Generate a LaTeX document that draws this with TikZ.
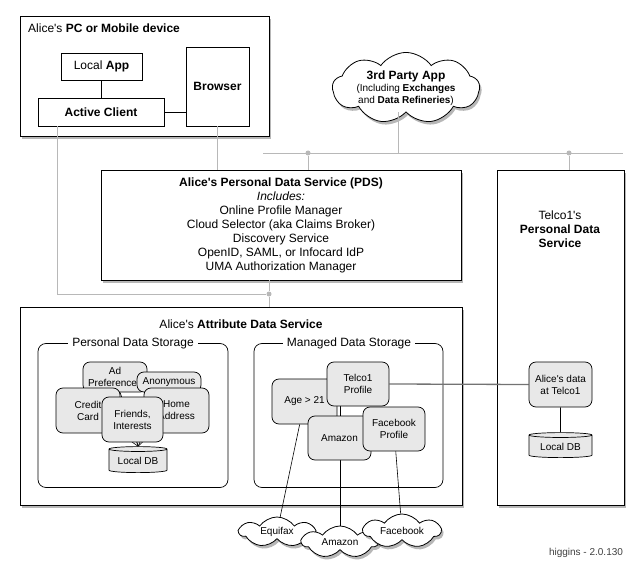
\documentclass[tikz,border=0pt]{standalone}
\usepackage{fontspec}
\setmainfont{Liberation Sans}[Ligatures=TeXOff]
\usetikzlibrary{shapes.geometric,shapes.symbols,shadows,positioning}
\pgfdeclarelayer{edges}
\pgfdeclarelayer{items}
\pgfsetlayers{main,edges,items}
\newcommand\smallfont{\fontsize{10}{12}\selectfont}

\begin{document}
\begin{tikzpicture}[
    x=1pt, y=-1pt,
    every node/.style={inner sep=0pt, font=\fontsize{12}{14}\selectfont},
    box/.style={draw, line width=0.9pt, fill=white, align=center},
    shadowed/.style={drop shadow={shadow xshift=2pt, shadow yshift=-3pt, opacity=0.4, fill=black!70}},
    item/.style={draw, line width=0.7pt, fill=black!9, rounded corners=7pt, align=center, font=\smallfont},
    group/.style={draw, line width=0.7pt, rounded corners=8pt},
    grouplabel/.style={fill=white, inner xsep=4pt},
    db/.style={draw, line width=0.7pt, fill=black!9, cylinder, shape border rotate=90, aspect=0.12, font=\smallfont},
    puff/.style={draw, line width=0.8pt, fill=white, cloud, cloud puffs=7, cloud puff arc=110, cloud ignores aspect, align=center, font=\smallfont, shadowed},
    greyline/.style={draw=black!28, line width=0.8pt},
    link/.style={draw=black, line width=0.6pt},
    dot/.style={circle, fill=black!28, minimum size=5pt},
]
  \useasboundingbox[fill=white] (0,0) rectangle (643,583);

  % the device
  \node [box, shadowed, minimum width=249pt, minimum height=120pt] (device) at (144.5,76) {};
  \node [anchor=west] (devtitle) at (28,28.5) {Alice's \textbf{PC or Mobile device}};
  \node [box, minimum width=81pt, minimum height=27pt]  (localapp) at (101.5,66.5) {Local \textbf{App}};
  \node [box, minimum width=126pt, minimum height=28pt] (client)   at (101,112)    {\textbf{Active Client}};
  \node [box, minimum width=63pt, minimum height=79pt]  (browser)  at (217.5,86.5) {\textbf{Browser}};
  \draw [link] (localapp.south) -- (localapp.south |- client.north);
  \draw [link] (client.east) -- (client.east -| browser.west);

  % 3rd party and the bus
  \node [puff, cloud puffs=9, minimum width=147pt, minimum height=67pt] (thirdparty) at (406,88)
        {\fontsize{12}{14}\selectfont\textbf{3rd Party App}\\
         \smallfont(Including \textbf{Exchanges}\\
         \smallfont and \textbf{Data Refineries})};
  \coordinate (busl) at (263,153);
  \coordinate (busr) at (623,153);
  \coordinate (busjoin) at (398,153);
  \node [dot] (bus1) at (308,153) {};
  \node [dot] (bus2) at (569,153) {};
  \draw [greyline] (busl) -- (busr);
  \draw [greyline] (busjoin) -- (busjoin |- thirdparty.south);

  % services
  \node [box, shadowed, minimum width=360pt, minimum height=110pt] (pds) at (281,225)
        {\textbf{Alice's Personal Data Service (PDS)}\\
         \textit{Includes:}\\
         Online Profile Manager\\
         Cloud Selector (aka Claims Broker)\\
         Discovery Service\\
         OpenID, SAML, or Infocard IdP\\
         UMA Authorization Manager};
  \node [box, shadowed, minimum width=127pt, minimum height=335pt] (telco) at (560.5,337.5) {};
  \node [align=center] (telcotitle) at (560,229) {Telco1's\\\textbf{Personal Data}\\\textbf{Service}};
  \node [box, shadowed, minimum width=442pt, minimum height=198pt] (ads) at (241,406) {};
  \node (adstitle) at (241,324) {Alice's \textbf{Attribute Data Service}};

  \draw [greyline] (bus1) -- (bus1 |- pds.north);
  \draw [greyline] (bus2) -- (bus2 |- telco.north);
  \draw [greyline] (browser.south) -- (browser.south |- pds.north);
  \node [dot] (pdsjoin) at (269,294) {};
  \draw [greyline] ([xshift=-44pt]client.south) |- (pdsjoin);
  \draw [greyline] (pds.south -| pdsjoin) -- (pdsjoin) -- (pdsjoin |- ads.north);

  % storage groups
  \node [group, minimum width=190pt, minimum height=144pt] (personal) at (133,415.5) {};
  \node [grouplabel] (personallabel) at (133,343) {Personal Data Storage};
  \node [group, minimum width=189pt, minimum height=144pt] (managed) at (348.5,415.5) {};
  \node [grouplabel] (managedlabel) at (349,343) {Managed Data Storage};

  \begin{pgfonlayer}{items}
    \node [item, minimum width=64pt, minimum height=30pt] (adpref)  at (115,377)     {Ad\\Preferences};
    \node [item, minimum width=64pt, minimum height=20pt] (anon)    at (169,382)     {Anonymous};
    \node [item, minimum width=64pt, minimum height=45pt] (credit)  at (88,410.5)    {Credit\\Card};
    \node [item, minimum width=65pt, minimum height=45pt] (home)    at (176.5,410.5) {Home\\Address};
    \node [item, minimum width=61pt, minimum height=45pt] (friends) at (132.5,419.5) {Friends,\\Interests};
    \node [db, minimum width=58pt, minimum height=26pt]   (db1)     at (138,461)     {Local DB};

    \node [item, minimum width=65pt, minimum height=45pt] (age)       at (304.5,401.5) {Age > 21};
    \node [item, minimum width=62pt, minimum height=44pt] (telcoprof) at (358,384)     {Telco1\\Profile};
    \node [item, minimum width=63pt, minimum height=44pt] (amazon)    at (339.5,438)   {Amazon};
    \node [item, minimum width=62pt, minimum height=44pt] (fbprof)    at (394,429)     {Facebook\\Profile};

    \node [item, minimum width=63pt, minimum height=45pt] (telcodata) at (560.5,384.5) {Alice's data\\at Telco1};
    \node [db, minimum width=63pt, minimum height=25pt]   (db2)       at (560.5,446.5) {Local DB};

    \node [puff, minimum width=75pt, minimum height=30pt] (equifax)  at (277,532) {Equifax};
    \node [puff, minimum width=76pt, minimum height=32pt] (amzcloud) at (340,542) {Amazon};
    \node [puff, minimum width=77pt, minimum height=34pt] (fbcloud)  at (402,531) {Facebook};
  \end{pgfonlayer}

  \begin{pgfonlayer}{edges}
    \foreach \n in {adpref,anon,credit,home,friends}
      \draw [link] (\n) -- (db1.north);
    \draw [link] (age) -- (equifax);
    \draw [link] (amzcloud) -- (amzcloud |- telcoprof);
    \draw [link] (fbprof) -- (fbcloud);
    \draw [link] (telcodata) -- (db2);
    \draw [draw=black!55, line width=1.3pt] (telcoprof.east) -- (telcodata.west);
  \end{pgfonlayer}

  \node [text=black!75, font=\smallfont] (version) at (586,553) {higgins - 2.0.130};
\end{tikzpicture}
\end{document}
